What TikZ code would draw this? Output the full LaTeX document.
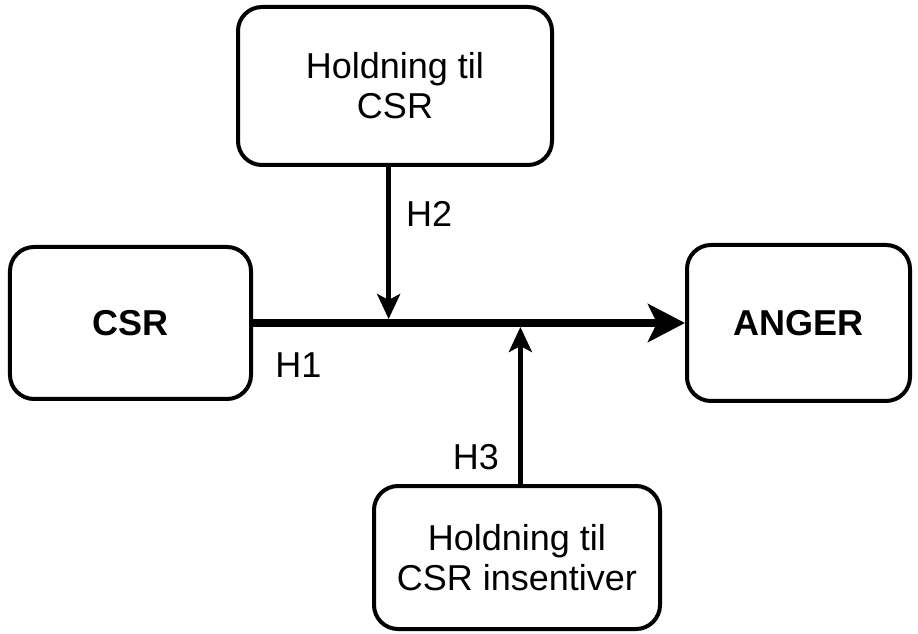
\documentclass[tikz,border=0pt]{standalone}
\usepackage{fontspec}
\setmainfont{Liberation Sans}
\usepackage{tikz}
\usetikzlibrary{
  calc,
  arrows.meta, % for Stealth tips
  positioning}
\tikzstyle{box} = [draw, line width=4pt, rounded corners=24pt, align=center, font=\fontsize{36}{40}\selectfont]
\tikzstyle{var} = [box, minimum width=241pt, minimum height=152pt, font=\fontsize{36}{40}\selectfont\bfseries]
\tikzstyle{moderator} = [box, minimum width=314pt, minimum height=158pt]
\tikzstyle{effect} = [line width=8pt, -{Stealth[length=37pt,width=38pt,inset=9pt]}]
\tikzstyle{moderation} = [line width=4.5pt, -{Stealth[length=25pt,width=23pt,inset=6pt]}]
\tikzstyle{hyp} = [font=\fontsize{36}{40}\selectfont]

\begin{document}
\begin{tikzpicture}[ on grid, auto ]
\useasboundingbox (-130.5pt,323pt) rectangle (787.5pt,-311pt);

\node[var] (CSR) {CSR};
\node[var, minimum width=223pt, minimum height=156pt, right=668pt of CSR] (ANGER) {ANGER};
\node[moderator, above right=237pt and 264.5pt of CSR] (attCSR) {Holdning til\\CSR};
\node[moderator, minimum width=286pt, minimum height=143pt, below right=234.5pt and 386.5pt of CSR] (attInc) {Holdning til\\CSR insentiver};

\path (CSR.east) -- (ANGER.west) coordinate[pos=0.314] (jH2) coordinate[pos=0.619] (jH3);

\draw[effect] (CSR) -- node[hyp, below=22pt, pos=0.105] {H1} (ANGER);
\draw[moderation] (attCSR.south -| jH2) -- node[hyp, right=12pt, pos=0.31] {H2} ([yshift=4pt]jH2);
\draw[moderation] (attInc.north -| jH3) -- node[hyp, left=16pt, pos=0.17] {H3} ([yshift=-4pt]jH3);

\end{tikzpicture}
\end{document}
